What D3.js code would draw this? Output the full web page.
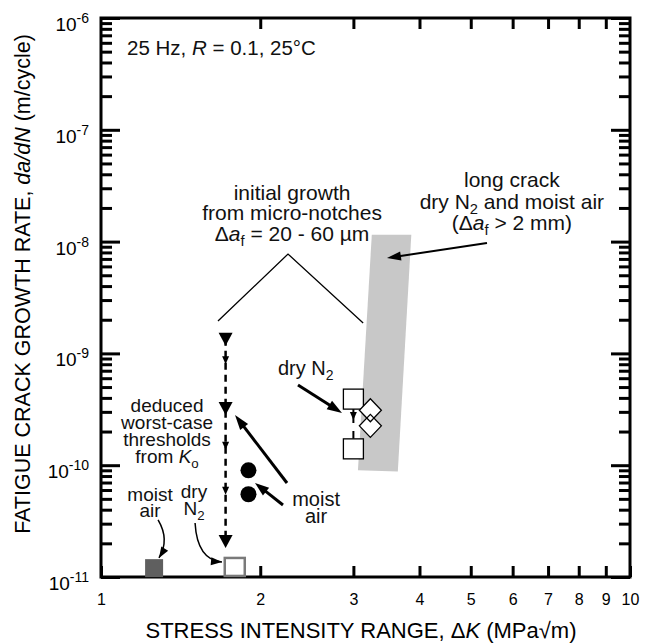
<!DOCTYPE html>
<html>
<head>
<meta charset="utf-8">
<script src="https://cdn.jsdelivr.net/npm/d3@7"></script>
<style>
body { margin: 0; background: #fff; }
svg { font-family: "Liberation Sans", Arial, Helvetica, sans-serif; }
</style>
</head>
<body>
<svg id="chart" width="646" height="644"></svg>
<script>
// axes
var xTicks = [1, 2, 3, 4, 5, 6, 7, 8, 9, 10];
var yDecades = [-11, -10, -9, -8, -7, -6];

// deduced worst-case thresholds (dashed line, down triangles)
var notchK = 1.72;
var notchTri = [1.35e-9, 3.25e-10, 2.1e-11];
var notchArrows = [8.7e-10, 1.49e-10, 5.9e-11];

// moist air, filled circles
var moistK = [1.90, 1.90];
var moistRate = [9.0e-11, 5.5e-11];

// dry N2, open squares
var dryK = [3.0, 3.0];
var dryRate = [3.9e-10, 1.4e-10];

// open diamonds
var diaK = [3.23, 3.23];
var diaRate = [3.1e-10, 2.25e-10];

// threshold squares on the bottom axis (moist air, dry N2)
var thrK = [1.26, 1.79];
var thrRate = [1.2e-11, 1.23e-11];

// long crack band (corners)
var bandK = [3.25, 3.86, 3.64, 3.06];
var bandRate = [1.15e-8, 1.15e-8, 8.8e-11, 9.0e-11];

// "initial growth" bracket
var vK = [1.664, 2.257, 3.13];
var vRate = [1.95e-9, 7.74e-9, 1.87e-9];

var svg = d3.select("#chart");
var x = d3.scaleLog().domain([1, 10]).range([101, 630]);
var y = d3.scaleLog().domain([1e-11, 1e-6]).range([577, 18]);

//刻度
var decY = yDecades.map(e => Math.pow(10, e));
var minorY = [];
yDecades.slice(0, -1).forEach(e => {
    for (let m = 2; m <= 9; m++) minorY.push(m * Math.pow(10, e));
});

function tidy(g) {
    g.select(".domain").remove();
    g.selectAll(".tick line").attr("stroke", "#000").attr("stroke-width", 3);
}

svg.append("g").attr("transform", "translate(101,0)")
    .call(d3.axisLeft(y).tickValues(minorY).tickSize(-11).tickFormat(() => ""))
    .call(tidy);
svg.append("g").attr("transform", "translate(101,0)")
    .call(d3.axisLeft(y).tickValues(decY).tickSize(-19).tickFormat(() => ""))
    .call(tidy);
svg.append("g").attr("transform", "translate(630,0)")
    .call(d3.axisRight(y).tickValues(minorY).tickSize(-11).tickFormat(() => ""))
    .call(tidy);
svg.append("g").attr("transform", "translate(630,0)")
    .call(d3.axisRight(y).tickValues(decY).tickSize(-19).tickFormat(() => ""))
    .call(tidy);
svg.append("g").attr("transform", "translate(0,18)")
    .call(d3.axisTop(x).tickValues(xTicks.slice(1, -1)).tickSize(-11).tickFormat(() => ""))
    .call(tidy);

var xAxis = svg.append("g").attr("transform", "translate(0,577)")
    .call(d3.axisBottom(x).tickValues(xTicks).tickSize(-11).tickPadding(17).tickFormat(d3.format("d")))
    .call(tidy);
xAxis.selectAll("text").attr("font-size", 16).attr("fill", "#000")
    .style("font-family", "'Liberation Sans', Arial, sans-serif");

// y labels 10^n
yDecades.forEach(e => {
    let t = svg.append("text")
        .attr("x", 89)
        .attr("y", y(Math.pow(10, e)) + 13)
        .attr("text-anchor", "end")
        .attr("font-size", 19);
    t.append("tspan").text("10");
    t.append("tspan").attr("font-size", 14).attr("dy", -8).text("-" + (-e));
});

// frame
svg.append("rect")
    .attr("x", 101).attr("y", 18).attr("width", 529).attr("height", 559)
    .attr("fill", "none").attr("stroke", "#000").attr("stroke-width", 3);

// titles
var xt = svg.append("text").attr("x", 361).attr("y", 638)
    .attr("text-anchor", "middle").attr("font-size", 22);
xt.append("tspan").text("STRESS INTENSITY RANGE, Δ");
xt.append("tspan").style("font-style", "italic").text("K");
xt.append("tspan").text(" (MPa√m)");

var yt = svg.append("text")
    .attr("transform", "translate(30,284) rotate(-90)")
    .attr("text-anchor", "middle").attr("font-size", 21.5);
yt.append("tspan").text("FATIGUE CRACK GROWTH RATE, ");
yt.append("tspan").style("font-style", "italic").text("da/dN");
yt.append("tspan").text(" (m/cycle)");

// long crack band
svg.append("polygon")
    .attr("points", bandK.map((k, i) => [x(k), y(bandRate[i])].join(",")).join(" "))
    .attr("fill", "#c8c8c8");

// bracket
svg.append("path")
    .attr("d", d3.line()(vK.map((k, i) => [x(k), y(vRate[i])])))
    .attr("fill", "none").attr("stroke", "#000").attr("stroke-width", 1.3);

// dashed line of thresholds
var nx = x(notchK);
svg.append("line")
    .attr("x1", nx).attr("x2", nx)
    .attr("y1", y(notchTri[0])).attr("y2", y(notchTri[notchTri.length - 1]))
    .attr("stroke", "#000").attr("stroke-width", 2.5).attr("stroke-dasharray", "7,5");
svg.selectAll(".tri").data(notchTri).join("path")
    .attr("class", "tri")
    .attr("transform", d => `translate(${nx},${y(d)})`)
    .attr("d", "M-7,-6L7,-6L0,7Z");
svg.selectAll(".small-arrow").data(notchArrows).join("path")
    .attr("class", "small-arrow")
    .attr("transform", d => `translate(${nx},${y(d)})`)
    .attr("d", "M-3.5,-4L3.5,-4L0,4Z");

// dashed arrow between dry N2 squares
svg.append("line")
    .attr("x1", x(dryK[0])).attr("x2", x(dryK[1]))
    .attr("y1", y(dryRate[0]) + 10).attr("y2", y(dryRate[1]) - 10)
    .attr("stroke", "#000").attr("stroke-width", 2).attr("stroke-dasharray", "14,8");
svg.append("path")
    .attr("transform", `translate(${x(dryK[0])},${y(dryRate[0]) + 17})`)
    .attr("d", "M-3.5,-4L3.5,-4L0,4Z");

// circles
svg.selectAll(".moist").data(moistRate).join("circle")
    .attr("class", "moist")
    .attr("cx", (d, i) => x(moistK[i])).attr("cy", d => y(d)).attr("r", 8);

// squares
svg.selectAll(".dry").data(dryRate).join("rect")
    .attr("class", "dry")
    .attr("x", (d, i) => x(dryK[i]) - 10).attr("y", d => y(d) - 10)
    .attr("width", 20).attr("height", 20)
    .attr("fill", "#fff").attr("stroke", "#000").attr("stroke-width", 1.3);

// diamonds: fill first, outlines on top so both show
var diaPath = "M0,-11.5L11,0L0,11.5L-11,0Z";
svg.selectAll(".dia-fill").data(diaRate).join("path")
    .attr("class", "dia-fill")
    .attr("transform", (d, i) => `translate(${x(diaK[i])},${y(d)})`)
    .attr("d", diaPath).attr("fill", "#fff");
svg.selectAll(".dia").data(diaRate).join("path")
    .attr("class", "dia")
    .attr("transform", (d, i) => `translate(${x(diaK[i])},${y(d)})`)
    .attr("d", diaPath).attr("fill", "none").attr("stroke", "#000").attr("stroke-width", 1.3);

// threshold squares at the bottom
svg.append("rect")
    .attr("x", x(thrK[0]) - 9).attr("y", y(thrRate[0]) - 9)
    .attr("width", 18).attr("height", 18).attr("fill", "#5f5f5f");
svg.append("rect")
    .attr("x", x(thrK[1]) - 10).attr("y", y(thrRate[1]) - 9)
    .attr("width", 20).attr("height", 18)
    .attr("fill", "#fff").attr("stroke", "#7a7a7a").attr("stroke-width", 2.5);

// arrows
function head(tx, ty, fx, fy, len, wid) {
    let a = Math.atan2(ty - fy, tx - fx);
    let bx = tx - len * Math.cos(a), by = ty - len * Math.sin(a);
    let px = -Math.sin(a) * wid / 2, py = Math.cos(a) * wid / 2;
    svg.append("path")
        .attr("d", `M${tx},${ty}L${bx + px},${by + py}L${bx - px},${by - py}Z`);
    return [bx + 2 * Math.cos(a), by + 2 * Math.sin(a)];
}

function arrow(k1, r1, k2, r2, sw, len, wid) {
    let fx = x(k1), fy = y(r1), tx = x(k2), ty = y(r2);
    let end = head(tx, ty, fx, fy, len, wid);
    svg.append("line")
        .attr("x1", fx).attr("y1", fy).attr("x2", end[0]).attr("y2", end[1])
        .attr("stroke", "#000").attr("stroke-width", sw);
}

function curveArrow(k1, r1, kc, rc, k2, r2) {
    let fx = x(k1), fy = y(r1), cx = x(kc), cy = y(rc), tx = x(k2), ty = y(r2);
    svg.append("path")
        .attr("d", `M${fx},${fy}Q${cx},${cy} ${tx},${ty}`)
        .attr("fill", "none").attr("stroke", "#000").attr("stroke-width", 1.5);
    head(tx, ty, cx, cy, 11, 8);
}

arrow(5.366, 9.72e-9, 3.472, 7.13e-9, 2, 14, 9);
arrow(2.357, 5.21e-10, 2.855, 2.93e-10, 3, 15, 10);
arrow(2.247, 6.93e-11, 1.792, 2.81e-10, 3, 15, 10);
arrow(2.208, 4.41e-11, 1.955, 6.93e-11, 3, 14, 10);
curveArrow(1.282, 3.24e-11, 1.35, 2.14e-11, 1.287, 1.48e-11);
curveArrow(1.506, 3.04e-11, 1.52, 1.42e-11, 1.693, 1.36e-11);

// text labels: one text element per line
function label(k, r, lines, size, lh, anchor) {
    lines.forEach((parts, li) => {
        if (typeof parts === "string") parts = [[parts]];
        let t = svg.append("text")
            .attr("x", x(k)).attr("y", y(r) + li * lh)
            .attr("font-size", size)
            .attr("text-anchor", anchor || "middle")
            .attr("fill", "#111");
        let shift = 0;
        parts.forEach(p => {
            let s = t.append("tspan").text(p[0]);
            let want = p[1] === "sub" ? 5 : 0;
            if (want !== shift) { s.attr("dy", want - shift); shift = want; }
            if (p[1] === "i") s.style("font-style", "italic");
            if (p[1] === "sub") s.attr("font-size", size * 0.7);
        });
    });
}

label(1.12, 4.67e-7, [[["25 Hz, "], ["R", "i"], [" = 0.1, 25°C"]]], 20.5, 0, "start");
label(2.297, 2.36e-8, ["initial growth", "from micro-notches",
    [["Δ"], ["a", "i"], ["f", "sub"], [" = 20 - 60 µm"]]], 21, 20.5);
label(5.98, 3.07e-8, ["long crack", [["dry N"], ["2", "sub"], [" and moist air"]],
    [["(Δ"], ["a", "i"], ["f", "sub"], [" > 2 mm)"]]], 21, 21.5);
label(2.16, 6.4e-10, [[["dry N"], ["2", "sub"]]], 20, 0, "start");
label(1.333, 2.99e-10, ["deduced", "worst-case", "thresholds",
    [["from "], ["K", "i"], ["o", "sub"]]], 19, 17);
label(2.55, 4.32e-11, ["moist", "air"], 20, 17.5);
label(1.238, 4.79e-11, ["moist", "air"], 19, 16);
label(1.499, 5.09e-11, ["dry", [["N"], ["2", "sub"]]], 19, 17);
</script>
</body>
</html>
